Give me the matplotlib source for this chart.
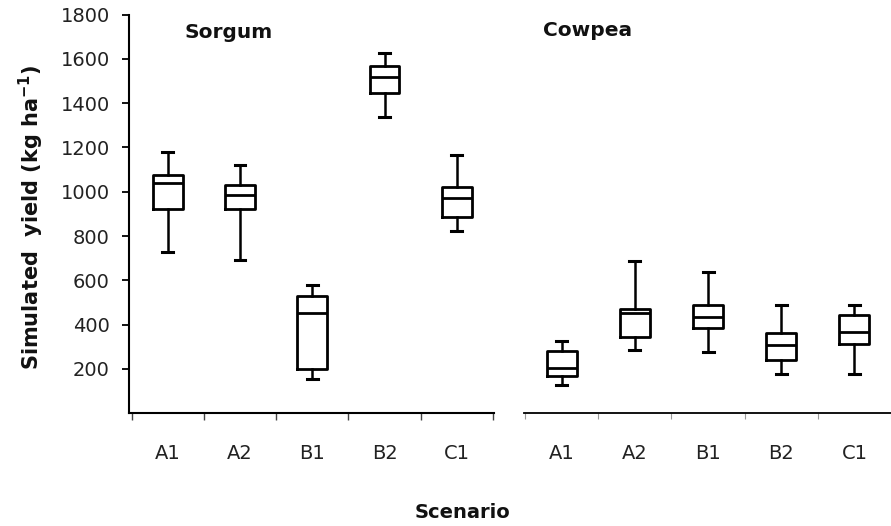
import matplotlib
matplotlib.use("Agg")
from matplotlib import pyplot as plt

plt.rcParams['font.family'] = ['DejaVu Sans']

scenarios = ['A1', 'A2', 'B1', 'B2', 'C1']

# Sorgum box statistics (kg/ha)
sorgum_whislo = [726, 692, 153, 1336, 824]
sorgum_q1 = [922, 922, 199, 1444, 886]
sorgum_med = [1040, 985, 454, 1516, 970]
sorgum_q3 = [1075, 1030, 529, 1567, 1023]
sorgum_whishi = [1178, 1122, 579, 1625, 1164]

# Cowpea box statistics (kg/ha)
cowpea_whislo = [128, 286, 275, 177, 177]
cowpea_q1 = [168, 343, 386, 241, 311]
cowpea_med = [203, 451, 433, 308, 368]
cowpea_q3 = [281, 469, 489, 364, 444]
cowpea_whishi = [326, 687, 639, 489, 489]

y_ticks = [200, 400, 600, 800, 1000, 1200, 1400, 1600, 1800]


def make_stats(lo, q1, med, q3, hi):
    return [dict(whislo=a, q1=b, med=c, q3=d, whishi=e, fliers=[])
            for a, b, c, d, e in zip(lo, q1, med, q3, hi)]


def draw_boxes(ax, stats):
    ax.bxp(stats, positions=range(1, len(stats) + 1), widths=0.41,
           showfliers=False, manage_ticks=False,
           boxprops=dict(color='black', linewidth=2.0),
           medianprops=dict(color='black', linewidth=2.0),
           whiskerprops=dict(color='black', linewidth=1.8),
           capprops=dict(color='black', linewidth=2.2), capwidths=0.15)


fig = plt.figure(figsize=(8.91, 5.26), dpi=100)
W, H = 891, 526
y_bottom = (H - 413.3) / H
y_height = (413.3 - 14.5) / H

ax1 = fig.add_axes([129.3 / W, y_bottom, 365 / W, y_height])
ax2 = fig.add_axes([524.3 / W, y_bottom, 366.7 / W, y_height])

draw_boxes(ax1, make_stats(sorgum_whislo, sorgum_q1, sorgum_med, sorgum_q3, sorgum_whishi))
draw_boxes(ax2, make_stats(cowpea_whislo, cowpea_q1, cowpea_med, cowpea_q3, cowpea_whishi))

ax1.set_xlim(0.467, 5.52)
ax2.set_xlim(0.49, 5.45)
for ax in (ax1, ax2):
    ax.set_ylim(0, 1800)
    ax.spines['top'].set_visible(False)
    ax.spines['right'].set_visible(False)
    ax.set_xticks(range(1, 6))
    ax.set_xticklabels(scenarios, fontsize=14, color='#222222')
    ax.set_xticks([0.5, 1.5, 2.5, 3.5, 4.5, 5.5], minor=True)
    ax.tick_params(axis='x', which='major', length=0, pad=22)
    ax.patch.set_alpha(0)

ax1.spines['left'].set_linewidth(1.5)
ax1.spines['bottom'].set_linewidth(1.5)
ax1.set_yticks(y_ticks)
ax1.set_yticklabels([str(t) for t in y_ticks], fontsize=14, color='#222222')
ax1.tick_params(axis='y', length=5, width=1.3, pad=9)
ax1.tick_params(axis='x', which='minor', length=5, width=1.0, color='#444444')

ax2.spines['left'].set_visible(False)
ax2.spines['bottom'].set_linewidth(1.3)
ax2.set_yticks([])
ax2.tick_params(axis='x', which='minor', length=4, width=0.8, color='#999999')

fig.text(185 / W, 1 - 33 / H, 'Sorgum', fontsize=14.5, fontweight='bold',
         color='#111111', va='center', ha='left')
fig.text(543 / W, 1 - 30 / H, 'Cowpea', fontsize=14.5, fontweight='bold',
         color='#111111', va='center', ha='left')
fig.text(462 / W, 1 - 513 / H, 'Scenario', fontsize=14, fontweight='bold',
         color='#111111', va='center', ha='center')
fig.text(31 / W, 1 - 217 / H, 'Simulated  yield (kg ha$^{\\mathregular{-1}}$)',
         fontsize=15, fontweight='bold', color='#111111', rotation=90,
         va='center', ha='center')

fig.savefig('out.png', dpi=100)
